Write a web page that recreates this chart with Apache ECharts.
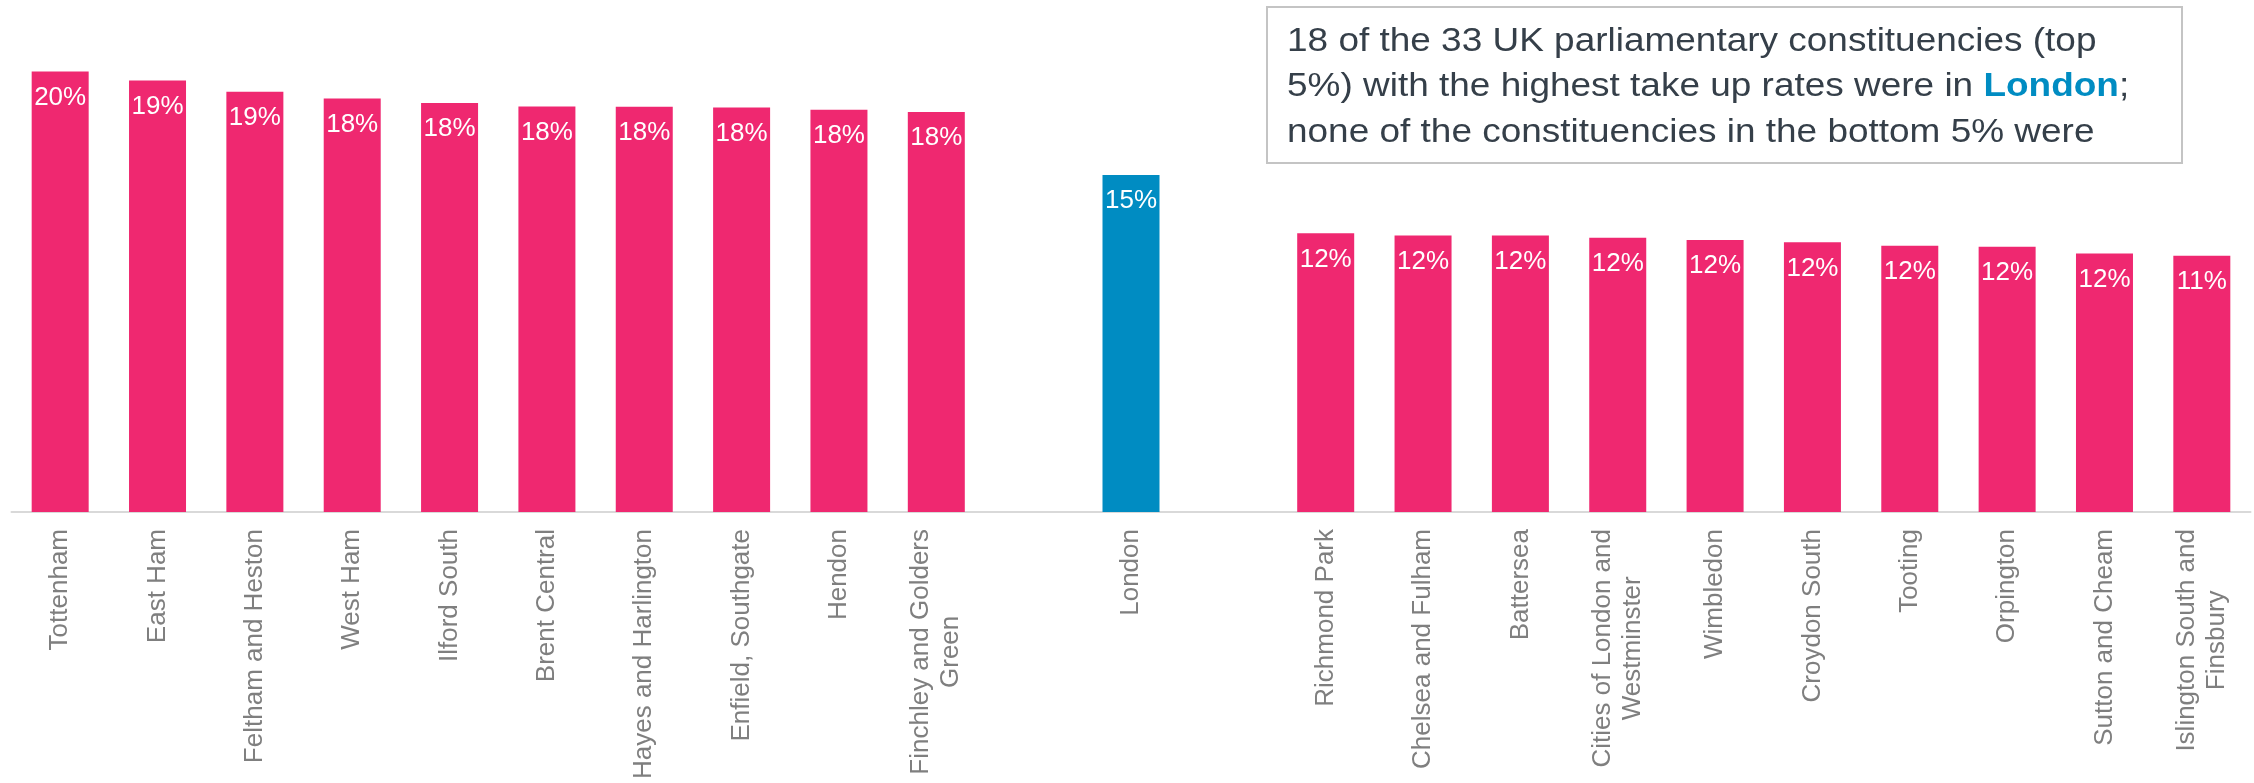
<!DOCTYPE html>
<html>
<head>
<meta charset="utf-8">
<title>Take up rates by parliamentary constituency</title>
<script src="https://cdn.jsdelivr.net/npm/echarts@6/dist/echarts.min.js"></script>
<style>
  html, body { margin: 0; padding: 0; background: #ffffff; }
  #chart { width: 2254px; height: 783px; }
</style>
</head>
<body>
<div id="chart"></div>
<script>
// Top ten constituencies, the London average and the bottom ten (blank slots separate the groups)
const categories = [
  'Tottenham', 'East Ham', 'Feltham and Heston', 'West Ham', 'Ilford South',
  'Brent Central', 'Hayes and Harlington', 'Enfield, Southgate', 'Hendon',
  'Finchley and Golders\nGreen',
  '',
  'London',
  '',
  'Richmond Park', 'Chelsea and Fulham', 'Battersea', 'Cities of London and\nWestminster',
  'Wimbledon', 'Croydon South', 'Tooting', 'Orpington', 'Sutton and Cheam',
  'Islington South and\nFinsbury'
];

// Take up rate, per cent
const takeUpRates = [
  19.6, 19.2, 18.7, 18.4, 18.2, 18.05, 18.04, 18.0, 17.9, 17.8,
  null,
  15.0,
  null,
  12.4, 12.3, 12.3, 12.2, 12.1, 12.0, 11.85, 11.8, 11.5, 11.4
];

const highlightCategory = 'London';
const pink = '#EF2870';
const blue = '#008CC2';

const noteLines = [
  '18 of the 33 UK parliamentary constituencies (top',
  '5%) with the highest take up rates were in {b|London};',
  'none of the constituencies in the bottom 5% were'
];

const font = '"Liberation Sans", Arial, Helvetica, sans-serif';

const barData = takeUpRates.map((v, i) => ({
  value: v,
  itemStyle: { color: categories[i] === highlightCategory ? blue : pink }
}));

const chart = echarts.init(document.getElementById('chart'), null, { renderer: 'canvas' });

chart.setOption({
  animation: false,
  backgroundColor: '#ffffff',
  grid: { left: 11.5, right: 3.5, top: 62.6, bottom: 271, containLabel: false },
  xAxis: {
    type: 'category',
    data: categories,
    axisTick: { show: false },
    axisLine: { show: true, lineStyle: { color: '#d9d9d9', width: 2 } },
    axisLabel: {
      interval: 0,
      rotate: 90,
      margin: 17,
      color: '#7f7f7f',
      fontFamily: font,
      fontSize: 26,
      lineHeight: 30,
      formatter: (name) => name ? name.split('\n').map(s => '{c|' + s + '}').join('\n') : '',
      rich: {
        c: { align: 'center', color: '#7f7f7f', fontFamily: font, fontSize: 26, lineHeight: 30 }
      }
    }
  },
  yAxis: {
    type: 'value',
    min: 0,
    max: 20,
    show: false,
    splitLine: { show: false }
  },
  series: [{
    type: 'bar',
    data: barData,
    barWidth: 57,
    label: {
      show: true,
      position: 'insideTop',
      distance: 13,
      color: '#ffffff',
      fontFamily: font,
      fontSize: 26,
      formatter: (p) => Math.round(p.value) + '%'
    }
  }],
  graphic: [
    {
      type: 'rect',
      shape: { x: 1267, y: 7, width: 915, height: 156 },
      style: { fill: '#ffffff', stroke: '#c4c4c4', lineWidth: 2 },
      z: 10
    },
    {
      type: 'text',
      x: 1287,
      y: 19,
      scaleX: 1.12,
      z: 11,
      style: {
        text: noteLines.join('\n'),
        fill: '#353f49',
        fontFamily: font,
        fontSize: 33,
        lineHeight: 45.5,
        align: 'left',
        verticalAlign: 'top',
        rich: {
          b: { fill: blue, fontFamily: font, fontSize: 33, fontWeight: 'bold', lineHeight: 45.5 }
        }
      }
    }
  ]
});
</script>
</body>
</html>
